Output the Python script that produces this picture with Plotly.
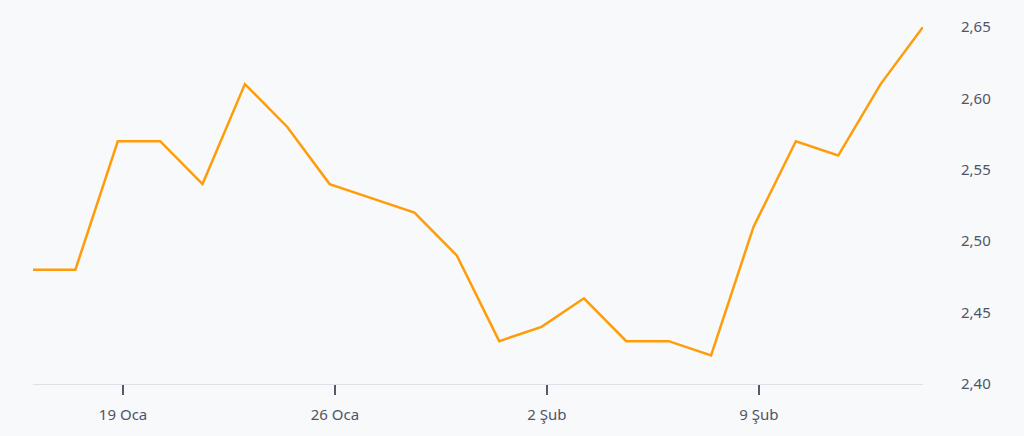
import plotly.graph_objects as go

dates = ["2026-01-15", "2026-01-16", "2026-01-19", "2026-01-20", "2026-01-21", "2026-01-22",
         "2026-01-23", "2026-01-26", "2026-01-27", "2026-01-28", "2026-01-29", "2026-01-30",
         "2026-02-02", "2026-02-03", "2026-02-04", "2026-02-05", "2026-02-06", "2026-02-09",
         "2026-02-10", "2026-02-11", "2026-02-12", "2026-02-13"]
values = [2.48, 2.48, 2.57, 2.57, 2.54, 2.61, 2.58, 2.54, 2.53, 2.52, 2.49, 2.43,
          2.44, 2.46, 2.43, 2.43, 2.42, 2.51, 2.57, 2.56, 2.61, 2.65]
x_tick_vals = ["2026-01-19 03:00", "2026-01-26 03:00", "2026-02-02 03:00", "2026-02-09 03:00"]
x_tick_text = ["19 Oca", "26 Oca", "2 Şub", "9 Şub"]
y_tick_vals = [2.40, 2.45, 2.50, 2.55, 2.60, 2.65]
y_tick_text = ["2,40", "2,45", "2,50", "2,55", "2,60", "2,65"]

BG = "#f8f9fa"
TXT = "#4f5566"

fig = go.Figure(go.Scatter(
    x=dates, y=values, mode="lines",
    line=dict(color="#ff9c0a", width=2.5),
    hoverinfo="skip",
))

fig.update_layout(
    width=1024, height=436,
    margin=dict(l=33, r=101, t=27, b=52),
    paper_bgcolor=BG, plot_bgcolor=BG,
    showlegend=False,
    font=dict(family="Noto Sans, Open Sans, sans-serif", size=15, color=TXT),
)
fig.update_xaxes(
    range=[dates[0], dates[-1]],
    rangebreaks=[dict(bounds=["sat", "mon"])],
    tickvals=x_tick_vals, ticktext=x_tick_text,
    showgrid=False, zeroline=False,
    showline=True, linecolor="#dde1e8", linewidth=1,
    ticks="outside", ticklen=10, tickwidth=1.5, tickcolor="#555a66",
    ticklabelstandoff=7,
    tickfont=dict(size=15, color=TXT),
)
fig.update_yaxes(
    side="right", range=[2.40, 2.65],
    tickvals=y_tick_vals, ticktext=y_tick_text,
    showgrid=False, zeroline=False, showline=False,
    ticks="", ticklabelstandoff=37,
    tickfont=dict(size=15, color=TXT),
)

fig.write_html(
    "out.html",
    config={"displayModeBar": False},
    post_script="document.body.style.margin='0';document.body.style.background='#f8f9fa';",
)
